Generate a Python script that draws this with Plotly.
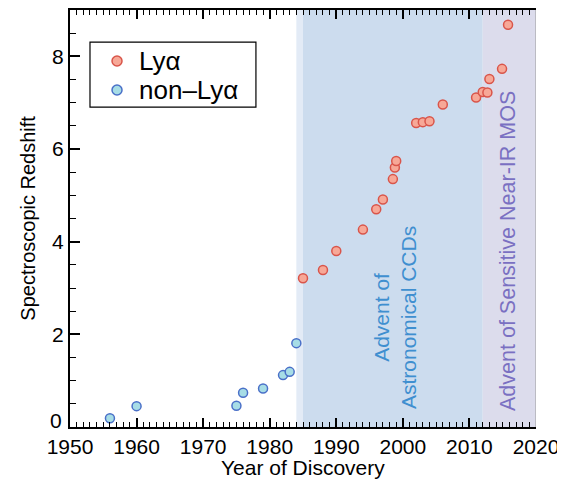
import plotly.graph_objects as go

# ---- data ----
lya_year = [1985, 1988, 1990, 1994, 1996, 1997, 1998.5, 1998.8, 1999, 2002, 2003, 2004,
            2006, 2011, 2012, 2012.7, 2013, 2014.9, 2015.8]
lya_z = [3.21, 3.39, 3.80, 4.26, 4.70, 4.91, 5.35, 5.60, 5.74, 6.56, 6.58, 6.60,
         6.96, 7.11, 7.23, 7.22, 7.51, 7.73, 8.68]
non_year = [1956, 1960, 1975, 1976, 1979, 1982, 1983, 1984]
non_z = [0.19, 0.45, 0.46, 0.74, 0.83, 1.12, 1.19, 1.81]

series_names = ["Lyα", "non\u2013Lyα"]
x_ticks = [1950, 1960, 1970, 1980, 1990, 2000, 2010, 2020]
y_ticks = [0, 2, 4, 6, 8]
y_ticktext = ["", "2", "4", "6", "8"]   # "0" drawn slightly raised, as in the original
bands = [(1984, 1985, "#e3ebf6"), (1985, 2012, "#ccdcee"), (2012, 2020, "#dcdcec")]

FONT = "Liberation Sans, Arial, Helvetica, sans-serif"
LYA_FILL, LYA_LINE = "#f7a897", "#d9554a"
NON_FILL, NON_LINE = "#a7dde6", "#4a70c8"

fig = go.Figure()

fig.add_trace(go.Scatter(
    x=lya_year, y=lya_z, mode="markers", name=series_names[0], showlegend=False,
    marker=dict(size=9, color=LYA_FILL, line=dict(color=LYA_LINE, width=1.5)),
))
fig.add_trace(go.Scatter(
    x=non_year, y=non_z, mode="markers", name=series_names[1], showlegend=False,
    marker=dict(size=9, color=NON_FILL, line=dict(color=NON_LINE, width=1.5)),
))

for x0, x1, c in bands:
    fig.add_shape(type="rect", xref="x", yref="paper", x0=x0, x1=x1, y0=0, y1=1,
                  fillcolor=c, line=dict(width=0), layer="below")

fig.add_shape(type="line", xref="x", yref="paper", x0=2020, x1=2020, y0=0, y1=1,
              line=dict(color="#9a9a9a", width=1), layer="above")

fig.add_annotation(x=1998.8, y=2.37, xref="x", yref="y",
                   text="Advent of<br>Astronomical CCDs", textangle=-90,
                   showarrow=False, align="center",
                   font=dict(family=FONT, size=21, color="#3f8fd0"))
fig.add_annotation(x=2015.8, y=3.8, xref="x", yref="y",
                   text="Advent of Sensitive Near-IR MOS", textangle=-90,
                   showarrow=False, align="center",
                   font=dict(family=FONT, size=21.5, color="#7a70c2"))

# raised "0" tick label
fig.add_annotation(x=-0.012, y=y_ticks[0], xref="paper", yref="y", text="0",
                   showarrow=False, xanchor="right", yanchor="middle", yshift=7,
                   font=dict(family=FONT, size=21, color="black"))

# axis titles
fig.add_annotation(x=0.5, y=-0.0962, xref="paper", yref="paper",
                   text="Year of Discovery", showarrow=False,
                   xanchor="center", yanchor="middle",
                   font=dict(family=FONT, size=21, color="black"))
fig.add_annotation(x=-0.092, y=0.5, xref="paper", yref="paper",
                   text="Spectroscopic Redshift", showarrow=False, textangle=-90,
                   xanchor="center", yanchor="middle",
                   font=dict(family=FONT, size=20, color="black"))

# legend (box, symbols, labels)
fig.add_shape(type="rect", xref="paper", yref="paper", x0=0.0429, x1=0.399,
              y0=0.767, y1=0.923, fillcolor="white", line=dict(color="black", width=1.2),
              layer="above")
for yy, name, fc, lc in [(0.8777, series_names[0], LYA_FILL, LYA_LINE),
                         (0.8082, series_names[1], NON_FILL, NON_LINE)]:
    fig.add_shape(type="circle", xref="paper", yref="paper",
                  xsizemode="pixel", ysizemode="pixel", xanchor=0.1009, yanchor=yy,
                  x0=-5, x1=5, y0=-5, y1=5, fillcolor=fc, line=dict(color=lc, width=1.5),
                  layer="above")
    fig.add_annotation(x=0.1438, y=yy, xref="paper", yref="paper", text=name,
                       showarrow=False, xanchor="left", yanchor="middle",
                       font=dict(family=FONT, size=26, color="black"))

fig.update_layout(
    width=557, height=475,
    margin=dict(l=62, r=29, t=2, b=56),
    paper_bgcolor="white", plot_bgcolor="white",
    font=dict(family=FONT, size=21, color="black"),
    showlegend=False,
)

fig.update_xaxes(
    range=[1950, 2020], tickvals=x_ticks, ticks="inside", ticklen=9, tickwidth=1.5,
    tickcolor="black", showline=True, linecolor="black", linewidth=2, mirror="ticks",
    showgrid=False, zeroline=False, automargin=False,
    minor=dict(dtick=1, ticks="inside", ticklen=5, tickwidth=1, tickcolor="black", showgrid=False),
    tickfont=dict(size=21),
)
fig.update_yaxes(
    range=[0, 9], tickvals=y_ticks, ticktext=y_ticktext, ticks="inside", ticklen=10,
    tickwidth=1.5, tickcolor="black", showline=True, linecolor="black", linewidth=2,
    mirror=False, showgrid=False, zeroline=False, automargin=False,
    minor=dict(dtick=0.5, ticks="inside", ticklen=6, tickwidth=1, tickcolor="black", showgrid=False),
    tickfont=dict(size=21),
)

fig.write_html("out.html")
